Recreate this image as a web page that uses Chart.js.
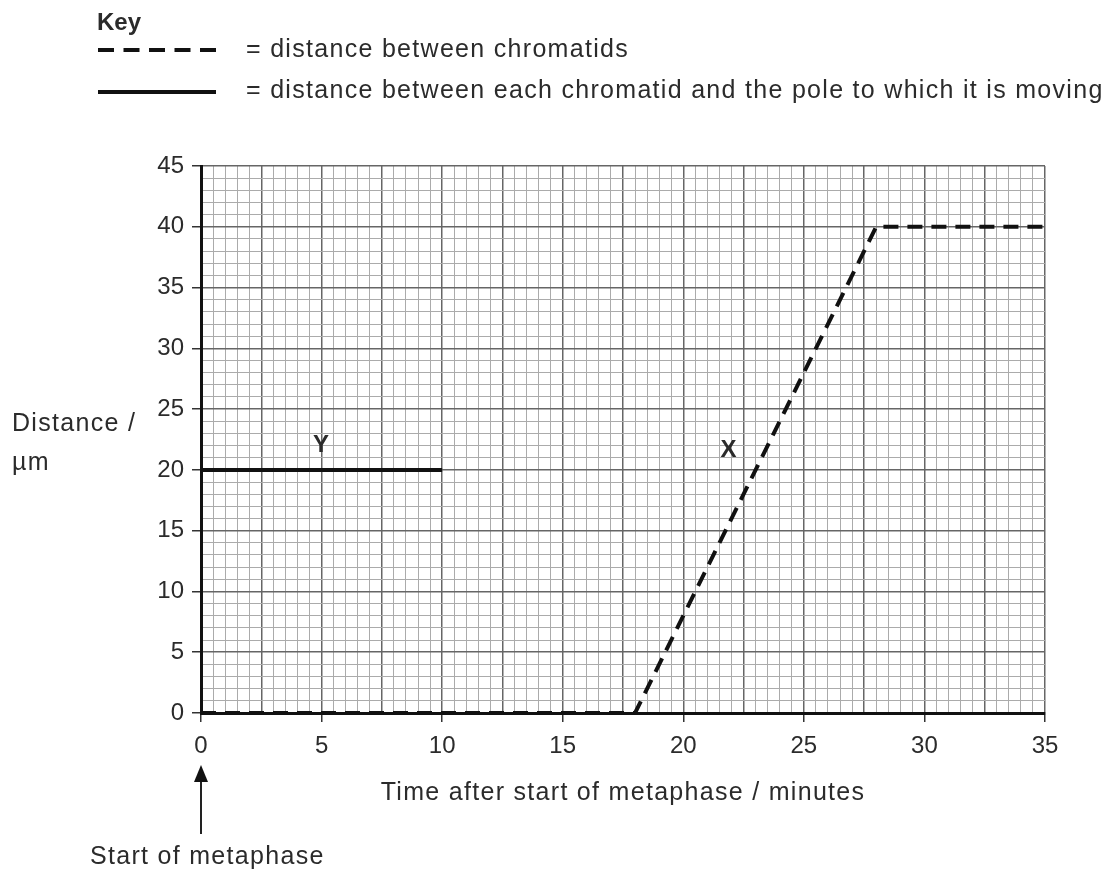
<!DOCTYPE html>
<html>
<head>
<meta charset="utf-8">
<script src="https://cdn.jsdelivr.net/npm/chart.js@4.4.1/dist/chart.umd.min.js"></script>
<style>
  html, body { margin: 0; padding: 0; background: #fff; }
  #wrap { width: 1108px; height: 873px; position: relative; }
</style>
</head>
<body>
<div id="wrap"><canvas id="myChart" width="1108" height="873"></canvas></div>
<script>
// donnees
const dashTimes = [0, 18, 28, 35];
const dashDistance = [0, 0, 40, 40];
const solidTimes = [0, 10];
const solidDistance = [20, 20];
const xTickLabels = [0, 5, 10, 15, 20, 25, 30, 35];
const yTickLabels = [0, 5, 10, 15, 20, 25, 30, 35, 40, 45];
const keyLabels = ['= distance between chromatids', '= distance between each chromatid and the pole to which it is moving'];
// etiquettes sur les courbes : [lettre, temps, distance]
const curveLetters = [['Y', 5, 22.0], ['X', 21.9, 21.6]];

const textColor = '#2b2b2b';
const fontFam = '"Liberation Sans", Arial, sans-serif';

const toPoints = (xs, ys) => xs.map((x, i) => ({ x: x, y: ys[i] }));

// un plugin pour dessiner la legende, les titres et la fleche
const extras = {
  id: 'extras',
  afterDraw(chart) {
    const ctx = chart.ctx;
    const sx = chart.scales.x, sy = chart.scales.y;
    ctx.save();
    ctx.fillStyle = textColor;
    ctx.textBaseline = 'middle';

    // Key
    ctx.font = 'bold 24px ' + fontFam;
    ctx.textAlign = 'left';
    ctx.letterSpacing = '0px';
    ctx.fillText('Key', 97, 23);
    ctx.letterSpacing = '1.3px';
    ctx.strokeStyle = '#111';
    ctx.lineWidth = 4;
    ctx.setLineDash([16, 9.5]);
    ctx.beginPath(); ctx.moveTo(98, 50); ctx.lineTo(216, 50); ctx.stroke();
    ctx.setLineDash([]);
    ctx.beginPath(); ctx.moveTo(98, 92); ctx.lineTo(216, 92); ctx.stroke();
    ctx.font = '25px ' + fontFam;
    ctx.fillText(keyLabels[0], 246, 50);
    ctx.fillText(keyLabels[1], 246, 91);

    // titres des axes
    ctx.fillText('Distance /', 12, 424);
    ctx.fillText('\u00b5m', 12, 463);
    ctx.textAlign = 'center';
    ctx.fillText('Time after start of metaphase / minutes', 623, 793);

    // lettres X et Y
    ctx.font = 'bold 24px ' + fontFam;
    curveLetters.forEach(l => {
      ctx.fillText(l[0], sx.getPixelForValue(l[1]), sy.getPixelForValue(l[2]));
    });

    // fleche "Start of metaphase"
    const ax = sx.getPixelForValue(0);
    ctx.strokeStyle = '#222';
    ctx.lineWidth = 2;
    ctx.beginPath(); ctx.moveTo(ax, 834); ctx.lineTo(ax, 776); ctx.stroke();
    ctx.fillStyle = '#111';
    ctx.beginPath(); ctx.moveTo(ax, 765); ctx.lineTo(ax - 7, 782); ctx.lineTo(ax + 7, 782); ctx.closePath(); ctx.fill();
    ctx.fillStyle = textColor;
    ctx.font = '25px ' + fontFam;
    ctx.textAlign = 'left';
    ctx.fillText('Start of metaphase', 90, 857);
    ctx.restore();
  }
};

const isMult = (v, m) => Math.abs(v / m - Math.round(v / m)) < 1e-6;

const config = {
  type: 'line',
  data: {
    datasets: [{
      label: 'chromatids',
      data: toPoints(dashTimes, dashDistance),
      borderColor: '#111',
      borderWidth: 4,
      borderDash: [15, 9],
      pointRadius: 0,
      fill: false,
      tension: 0
    }, {
      label: 'pole',
      data: toPoints(solidTimes, solidDistance),
      borderColor: '#111',
      borderWidth: 4,
      pointRadius: 0,
      fill: false,
      tension: 0
    }]
  },
  options: {
    responsive: false,
    animation: false,
    events: [],
    layout: { padding: { left: 0, right: 63, top: 166, bottom: 0 } },
    plugins: { legend: { display: false }, tooltip: { enabled: false } },
    scales: {
      x: {
        type: 'linear',
        min: 0, max: 35,
        afterFit: (s) => { s.height = 160; },
        border: { color: '#111', width: 3 },
        grid: {
          color: (c) => isMult(c.tick.value, 2.5) ? '#666' : '#ababab',
          lineWidth: (c) => isMult(c.tick.value, 2.5) ? 1.5 : 1,
          tickColor: (c) => isMult(c.tick.value, 5) ? '#333' : 'rgba(0,0,0,0)',
          tickLength: 9
        },
        ticks: {
          stepSize: 0.5,
          autoSkip: false,
          maxRotation: 0,
          padding: 10,
          color: textColor,
          font: { family: fontFam, size: 24 },
          callback: (v) => xTickLabels.includes(v) ? String(v) : ''
        }
      },
      y: {
        type: 'linear',
        min: 0, max: 45,
        afterFit: (s) => { s.width = 201; },
        border: { color: '#111', width: 3 },
        grid: {
          color: (c) => isMult(c.tick.value, 5) ? '#666' : '#ababab',
          lineWidth: (c) => isMult(c.tick.value, 5) ? 1.5 : 1,
          tickColor: (c) => isMult(c.tick.value, 5) ? '#333' : 'rgba(0,0,0,0)',
          tickLength: 9
        },
        ticks: {
          stepSize: 1,
          autoSkip: false,
          padding: 8,
          color: textColor,
          font: { family: fontFam, size: 24 },
          callback: (v) => yTickLabels.includes(v) ? String(v) : ''
        }
      }
    }
  },
  plugins: [extras]
};

var myChart = new Chart(document.getElementById('myChart').getContext('2d'), config);
</script>
</body>
</html>
